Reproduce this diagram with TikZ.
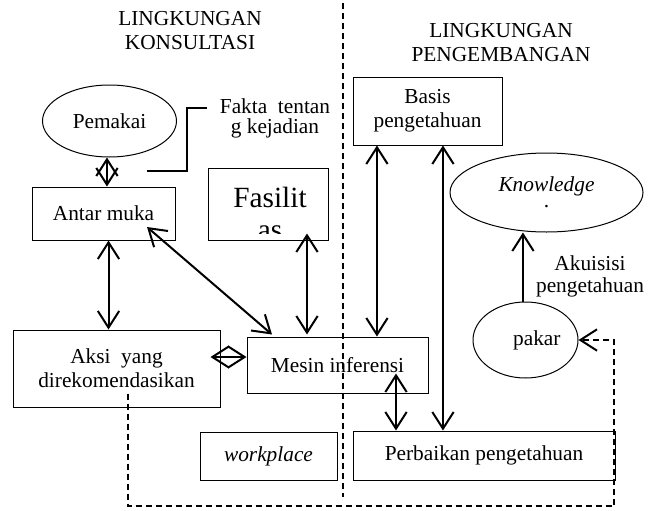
\documentclass[tikz,border=0pt]{standalone}
\usepackage{fontspec}
\setmainfont{Liberation Serif}
\usetikzlibrary{arrows.meta, shapes.geometric, calc}

\begin{document}
\begin{tikzpicture}[x=0.75pt, y=-0.75pt, font=\fontsize{16}{18}\selectfont,
    >={Straight Barb[length=12.5pt, width=16pt]},
    box/.style={draw, line width=0.75pt, inner sep=2pt, align=center},
    oval/.style={draw, ellipse, line width=0.75pt, inner sep=0pt, align=center},
    dbl/.style={<->, line width=1.5pt},
    fb/.style={dash pattern=on 4.5pt off 3pt, line width=1.5pt}]
    \useasboundingbox (0,0) rectangle (659,510);

    % judul dan garis pemisah
    \node[align=center] (konsul) at (190,31) {LINGKUNGAN\\KONSULTASI};
    \node[align=center] (kembang) at (501,43) {LINGKUNGAN\\PENGEMBANGAN};
    \coordinate (dtop) at (343,3);
    \coordinate (dbot) at (343,497);
    \draw[fb, line width=1.2pt] (dtop) -- (dbot);

    % lingkungan konsultasi
    \node[oval, minimum width=100.5pt, minimum height=54pt] (pemakai) at (109.5,121) {Pemakai};
    \node[box, minimum width=107.25pt, minimum height=39.75pt] (antar) at (103.5,213.5) {Antar muka};
    \node[align=center, font=\fontsize{16}{15}\selectfont] (fakta) at (275,118) {Fakta\ \ tentan\\g kejadian};
    \node[box, minimum width=90pt, minimum height=54pt] (fasil) at (268,204) {};
    \begin{scope}
        \clip ([shift={(1,-7)}]fasil.south west) rectangle ([shift={(-1,1)}]fasil.north east);
        \node[font=\fontsize{22}{25}\selectfont, anchor=base] (fasil1) at (270,207) {Fasilit};
        \node[font=\fontsize{22}{25}\selectfont, anchor=base] (fasil2) at (270,239) {as};
    \end{scope}
    \node[box, minimum width=155.25pt, minimum height=57.75pt] (aksi) at (116.5,368.5) {Aksi\ \ yang\\direkomendasikan};
    \node[box, minimum width=135.75pt, minimum height=42pt] (mesin) at (337.5,365) {Mesin inferensi};
    \node[box, minimum width=102.75pt, minimum height=36pt] (work) at (268.5,456) {\textit{workplace}};

    % lingkungan pengembangan
    \node[box, minimum width=111.75pt, minimum height=51pt] (basis) at (427.5,111) {Basis\\pengetahuan};
    \node[oval, minimum width=144.75pt, minimum height=59.25pt] (know) at (546.5,192.5) {\textit{Knowledge}\\[-6pt].};
    \node[oval, minimum width=78.75pt, minimum height=57pt] (pakar) at (525.5,340) {\hspace*{17pt}pakar};
    \node[align=center, font=\fontsize{16}{16.5}\selectfont] (akuisisi) at (590,276) {Akuisisi\\pengetahuan};
    \node[box, minimum width=196.5pt, minimum height=36.75pt] (perbaikan) at (484,455.5) {Perbaikan pengetahuan};

    % penghubung
    \coordinate (fk1) at (147,171);
    \coordinate (fk2) at (187,108);
    \draw[line width=1.5pt, shorten >=6pt] (fk1) -| (fk2) -- (fk2 -| fakta.west);
    \draw[dbl] ([xshift=-1.9pt]pemakai.south) -- ([xshift=-1.9pt]pemakai.south |- antar.north);
    \draw[dbl] ([xshift=3.75pt]antar.south) -- ([xshift=3.75pt]antar.south |- aksi.north);
    \draw[dbl] ([shift={(43.5,13.5)}]antar.center) -- ([shift={(-65.5,-2)}]mesin.north);
    \draw[dbl] ([shift={(39,-7)}]fasil.south) coordinate (fs) -- ([yshift=1.5pt]fs |- mesin.north);
    \draw[dbl] ([shift={(-10,-11.5)}]aksi.east) -- ([shift={(0,-8)}]mesin.west);
    \draw[dbl] ([xshift=-37.9pt]basis.south) -- ([xshift=-37.9pt]basis.south |- mesin.north);
    \draw[dbl] ([xshift=11.6pt]basis.south) -- ([xshift=11.6pt]basis.south |- perbaikan.north);
    \draw[dbl] ([shift={(58.5,-20)}]mesin.south) coordinate (ms) -- (ms |- perbaikan.north);
    \draw[->, line width=1.5pt] ([xshift=-1.9pt]pakar.north) -- ([xshift=-1.9pt]pakar.north |- know.south);
    \coordinate (fbc) at (614,506);
    \draw[fb, ->] ([shift={(11.5,-14)}]aksi.south) |- (fbc) |- (pakar.east);
\end{tikzpicture}
\end{document}
